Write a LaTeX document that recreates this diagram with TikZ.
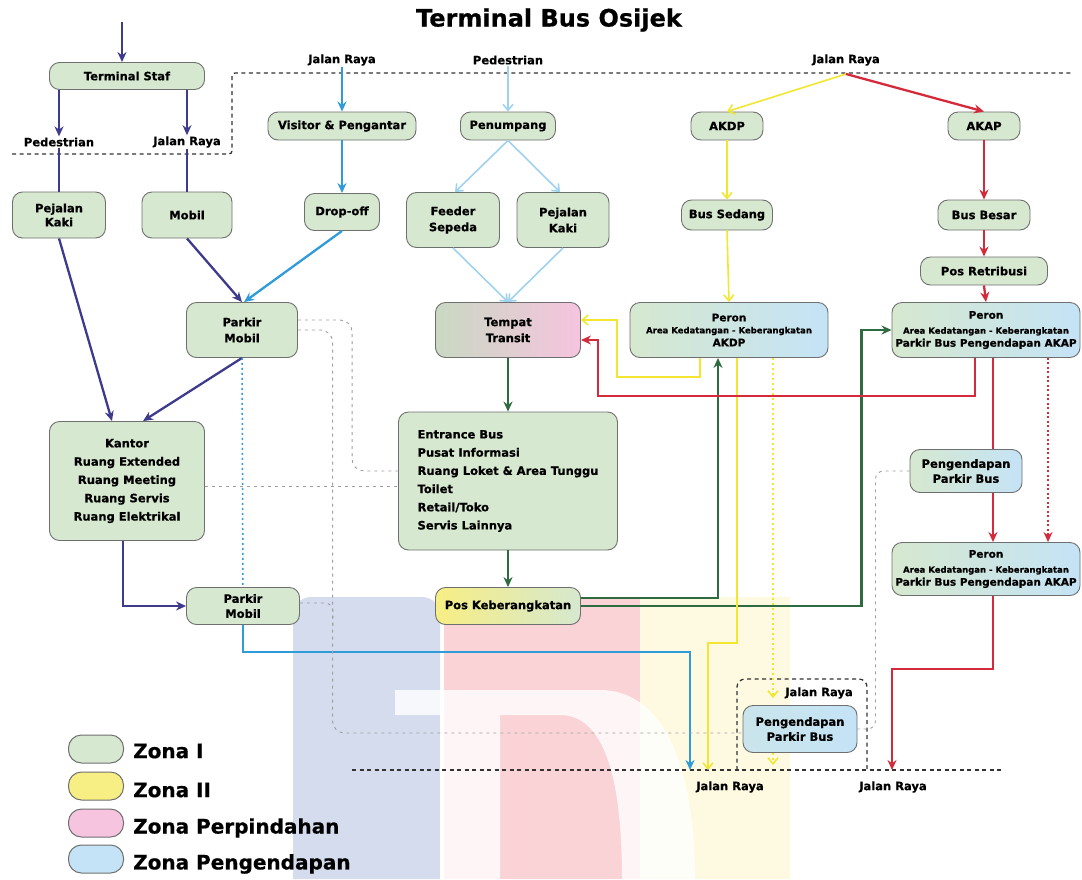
\documentclass[tikz,border=0pt]{standalone}
\usepackage{fontspec}
\setmainfont{DejaVu Sans}[BoldFeatures={FakeBold=0.6}]
\usetikzlibrary{arrows.meta,calc}

\definecolor{zgreen}{HTML}{D6E8CF}
\definecolor{zblue}{HTML}{C4E3F6}
\definecolor{zyellow}{HTML}{F7EE84}
\definecolor{zpink}{HTML}{F6C4DE}
\definecolor{edge}{HTML}{6F6F6F}
\definecolor{cpur}{HTML}{3E3A8C}
\definecolor{cblue}{HTML}{2F9BD8}
\definecolor{clblue}{HTML}{9FD2EF}
\definecolor{cylw}{HTML}{F2E630}
\definecolor{cred}{HTML}{D42A3C}
\definecolor{cgreen}{HTML}{2F6B40}
\definecolor{cgray}{HTML}{A0A0A0}
\definecolor{wmblue}{HTML}{D5DCEE}
\definecolor{wmred}{HTML}{FAD3D6}
\definecolor{wmyel}{HTML}{FEFAE2}

\begin{document}
\begin{tikzpicture}[x=1pt,y=-1pt,
  zone/.style={draw=edge, line width=0.9pt, rounded corners=10pt, inner sep=1pt,
    align=center, fill=zgreen, font=\fontsize{11.5}{15}\selectfont\bfseries},
  gb/.style={zone, left color=zgreen, right color=zblue},
  lab/.style={font=\fontsize{11.5}{13}\selectfont\bfseries, inner sep=1pt},
  legtxt/.style={font=\fontsize{20}{22}\selectfont\bfseries, anchor=west, inner sep=0pt},
  pill/.style={draw=edge, line width=1pt, rounded corners=13pt, minimum width=55pt, minimum height=28pt, inner sep=0pt},
  thick arrow/.style={-{Stealth[length=10pt,width=9pt]}, line width=2.3pt},
  thin arrow/.style={-{Straight Barb[length=6pt,width=10pt]}, line width=1.6pt},
  pur/.style={thick arrow, draw=cpur},
  blu/.style={thick arrow, draw=cblue},
  lblu/.style={thin arrow, draw=clblue},
  ylw/.style={thin arrow, draw=cylw},
  rd/.style={thick arrow, draw=cred},
  grn/.style={thick arrow, draw=cgreen},
  gdot/.style={draw=cgray, line width=0.9pt, dash pattern=on 3pt off 4pt},
  road/.style={draw=black!80, line width=1.3pt, dash pattern=on 4pt off 3.5pt}
]
\useasboundingbox (0,0) rectangle (1082,879);

% faint logo in the background
\fill[wmblue] (293,879) -- (293,615) [rounded corners=18pt] -- (293,597) -- (440,597) [sharp corners] -- (440,879) -- cycle;
\fill[wmred] (444,597) rectangle (640,879);
\fill[wmyel] (640,597) rectangle (790,879);
\fill[white, opacity=0.8] (395,690) -- (600,690) .. controls (665,690) and (695,770) .. (695,879)
  -- (622,879) .. controls (622,780) and (605,715) .. (560,715) -- (500,715) -- (500,879)
  -- (440,879) -- (440,715) -- (395,715) -- cycle;

% title
\node[font=\fontsize{24}{26}\selectfont\bfseries] (title) at (549,20) {Terminal Bus Osijek};

% road boundaries
\draw[road, rounded corners=3pt] (12,154) -- (232,154) -- (232,73) -- (1072,73);
\draw[road] (352,770) -- (1003,770);
\draw[road, rounded corners=8pt] (737,770) -- (737,679) -- (867,679) -- (867,770);

% staff side
\coordinate (top) at (122,22);
\node[zone, minimum width=155pt, minimum height=27pt] (ts) at (127,76) {Terminal Staf};
\node[lab] (l1) at (59,142) {Pedestrian};
\node[lab] (l2) at (187,142) {Jalan Raya};
\node[zone, minimum width=93pt, minimum height=46pt, font=\fontsize{11.5}{14}\selectfont\bfseries] (pk1) at (59,215) {Pejalan\\Kaki};
\node[zone, minimum width=90pt, minimum height=46pt] (mb) at (187,215) {Mobil};
\node[zone, minimum width=111pt, minimum height=55pt, font=\fontsize{11.5}{16}\selectfont\bfseries] (pm1) at (242,330) {Parkir\\Mobil};
\node[zone, minimum width=155pt, minimum height=119pt, font=\fontsize{11.5}{18.3}\selectfont\bfseries] (kt) at (127,481)
  {Kantor\\Ruang Extended\\Ruang Meeting\\Ruang Servis\\Ruang Elektrikal};
\node[zone, minimum width=113pt, minimum height=37pt, font=\fontsize{11.5}{15}\selectfont\bfseries] (pm2) at (243,606) {Parkir\\Mobil};

% visitors
\node[lab] (l3) at (342,60) {Jalan Raya};
\node[zone, minimum width=148pt, minimum height=28pt] (vp) at (342,126) {Visitor \& Pengantar};
\node[zone, minimum width=75pt, minimum height=37pt] (dof) at (342,212) {Drop-off};

% passengers
\node[lab] (l4) at (508,60) {Pedestrian};
\node[zone, minimum width=95pt, minimum height=28pt] (pn) at (508,126) {Penumpang};
\node[zone, minimum width=93pt, minimum height=55pt, font=\fontsize{11.5}{16}\selectfont\bfseries] (fs) at (453,220) {Feeder\\Sepeda};
\node[zone, minimum width=92pt, minimum height=55pt, font=\fontsize{11.5}{16}\selectfont\bfseries] (pk2) at (563,220) {Pejalan\\Kaki};
\node[zone, left color=zgreen!85!gray, right color=zpink, minimum width=145pt, minimum height=55pt, font=\fontsize{11.5}{16}\selectfont\bfseries] (tt) at (508,330) {Tempat\\Transit};
\node[zone, minimum width=219pt, minimum height=138pt, align=left, font=\fontsize{11.5}{18.2}\selectfont\bfseries] (eb) at (508,481)
  {Entrance Bus\\Pusat Informasi\\Ruang Loket \& Area Tunggu\\Toilet\\Retail/Toko\\Servis Lainnya};
\node[zone, left color=zyellow, right color=zgreen, minimum width=145pt, minimum height=37pt] (pos) at (508,606) {Pos Keberangkatan};

% buses
\node[lab] (l5) at (846,60) {Jalan Raya};
\coordinate (jt) at (846,74);
\node[zone, minimum width=72pt, minimum height=28pt] (akdp) at (727,126) {AKDP};
\node[zone, minimum width=72pt, minimum height=28pt] (akap) at (984,126) {AKAP};
\node[zone, minimum width=91pt, minimum height=30pt] (bs) at (727,215) {Bus Sedang};
\node[zone, minimum width=92pt, minimum height=30pt] (bb) at (984,215) {Bus Besar};
\node[zone, minimum width=127pt, minimum height=28pt] (pr) at (984,271) {Pos Retribusi};
\node[gb, minimum width=198pt, minimum height=55pt, font=\fontsize{10.5}{13}\selectfont\bfseries] (per1) at (729,330)
  {Peron\\[-1pt]\fontsize{8.5}{10.5}\selectfont Area Kedatangan - Keberangkatan\\AKDP};
\node[gb, minimum width=188pt, minimum height=55pt, font=\fontsize{10.5}{13}\selectfont\bfseries] (per2) at (986,330)
  {Peron\\[2pt]\fontsize{8.5}{10.5}\selectfont Area Kedatangan - Keberangkatan\\Parkir Bus Pengendapan AKAP};
\node[gb, minimum width=112pt, minimum height=43pt, font=\fontsize{11.5}{15}\selectfont\bfseries] (pgr) at (966,471) {Pengendapan\\Parkir Bus};
\node[gb, minimum width=188pt, minimum height=53pt, font=\fontsize{10.5}{13}\selectfont\bfseries] (per3) at (986,569)
  {Peron\\[2pt]\fontsize{8.5}{10.5}\selectfont Area Kedatangan - Keberangkatan\\Parkir Bus Pengendapan AKAP};
\node[zone, left color=zblue!70!zgreen, right color=zblue, minimum width=114pt, minimum height=47pt, font=\fontsize{11.5}{15}\selectfont\bfseries] (pgl) at (800,729) {Pengendapan\\Parkir Bus};
\node[lab] (l6) at (819,693) {Jalan Raya};

% bottom road exits
\node[lab] (l7) at (730,787) {Jalan Raya};
\node[lab] (l8) at (893,787) {Jalan Raya};
\coordinate (exb) at (690,770);
\coordinate (exy) at (708,770);
\coordinate (exd) at (773,765);
\coordinate (exr) at (892,770);

% ---- staff flows
\draw[pur] (top) -- (top |- ts.north);
\draw[pur] (ts.south -| l1) -- (l1.north);
\draw[pur] (ts.south -| l2) -- (l2.north);
\draw[cpur, line width=2.3pt] (l1.south) -- (pk1.north);
\draw[cpur, line width=2.3pt] (l2.south) -- (mb.north);
\draw[pur] (mb.south) -- (pm1.north);
\draw[pur] (pk1.south) -- ([xshift=-15pt]kt.north);
\draw[pur] (pm1.south) -- ([xshift=16pt]kt.north);
\draw[pur] ([xshift=-4pt]kt.south) |- (pm2.west);

% ---- visitor flows
\draw[blu] (l3.south) -- (vp.north);
\draw[blu] (vp.south) -- (dof.north);
\draw[blu] (dof.south) -- ([xshift=2pt]pm1.north);
\draw[cblue, line width=1.5pt, dash pattern=on 2pt off 3pt] (pm1.south) -- (pm2.north);
\draw[blu] (pm2.south) -- ++(0,27) -| (exb);

% ---- passenger flows
\draw[lblu] (l4.south) -- (pn.north);
\draw[lblu] (pn.south) -- ([xshift=2pt]fs.north);
\draw[lblu] (pn.south) -- ([xshift=-3pt]pk2.north);
\draw[lblu] (fs.south) -- (tt.north);
\draw[lblu] (pk2.south) -- (tt.north);
\draw[grn] (tt.south) -- (eb.north);
\draw[grn] (eb.south) -- (pos.north);
\draw[grn] ([yshift=8pt]pos.east) -| ([xshift=-11pt]per1.south);
\draw[grn] (pos.east) -| ([xshift=-30pt]per2.west) -- (per2.west);

% ---- AKDP flows
\draw[ylw] (jt) -- (akdp.north);
\draw[ylw] (akdp.south) -- (bs.north);
\draw[ylw] (bs.south) -- (per1.north);
\draw[ylw] ([xshift=-29pt]per1.south) |- (617,377) |- ([yshift=10pt]tt.east);
\draw[ylw] ([xshift=8pt]per1.south) -- ++(0,285) -| (exy);
\draw[ylw, dash pattern=on 2pt off 3pt] ([xshift=44pt]per1.south) -- ([xshift=-27pt,yshift=7pt]pgl.north);
\draw[ylw, dash pattern=on 2pt off 3pt] ([xshift=-27pt]pgl.south) -- (exd);

% ---- AKAP flows
\draw[rd] (jt) -- (akap.north);
\draw[rd] (akap.south) -- (bb.north);
\draw[rd] (bb.south) -- (pr.north);
\draw[rd] (pr.south) -- (per2.north);
\draw[rd] ([xshift=-11pt]per2.south) |- (598,396) |- ([yshift=-10pt]tt.east);
\draw[cred, line width=2.3pt] ([xshift=7pt]per2.south) -- ([xshift=27pt]pgr.north);
\draw[rd] ([xshift=27pt]pgr.south) -- ([xshift=7pt]per3.north);
\draw[rd, line width=1.5pt, dash pattern=on 2pt off 2.5pt] ([xshift=62pt]per2.south) -- ([xshift=62pt]per3.north);
\draw[rd] ([xshift=7pt]per3.south) -- ++(0,73) -| (exr);

% ---- service links
\draw[gdot, rounded corners=12pt] ([yshift=10pt]pm1.east) -| ([xshift=-46pt,yshift=10pt]eb.west) -- ([yshift=10pt]eb.west);
\draw[gdot, rounded corners=12pt] (pm1.east) -| ([xshift=-410pt,yshift=-4pt]pgl.west) -- ([yshift=-4pt]pgl.west);
\draw[gdot] ([yshift=-5pt]kt.east) -- ([yshift=-5pt]eb.west);
\draw[gdot, rounded corners=8pt] ([yshift=3pt]pm2.east) -| ([xshift=33pt,yshift=-20pt]pm2.east);
\draw[gdot, rounded corners=8pt] (pgr.west) -| ([xshift=18pt]pgl.east) -- (pgl.east);

% ---- legend
\node[pill, fill=zgreen] (k1) at (96,749) {};
\node[pill, fill=zyellow] (k2) at (96,786) {};
\node[pill, fill=zpink] (k3) at (96,823) {};
\node[pill, fill=zblue] (k4) at (96,859) {};
\node[legtxt] (t1) at (133,751) {Zona I};
\node[legtxt] (t2) at (133,790) {Zona II};
\node[legtxt] (t3) at (133,828) {Zona Perpindahan};
\node[legtxt] (t4) at (133,864) {Zona Pengendapan};
\end{tikzpicture}
\end{document}
